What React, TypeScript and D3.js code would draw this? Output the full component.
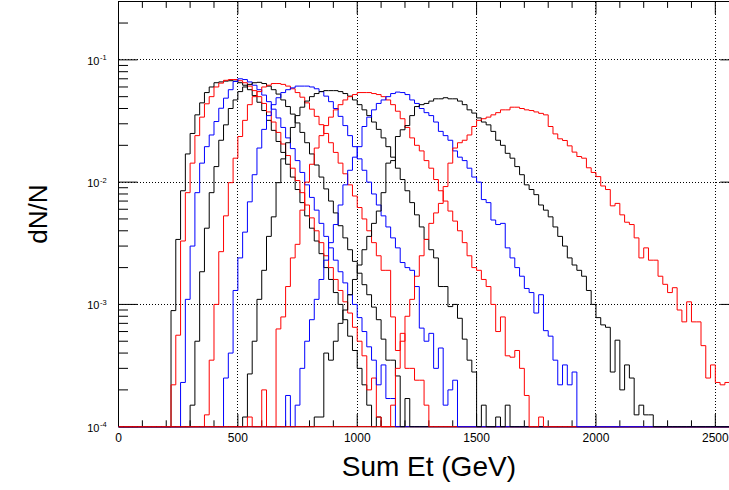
import React from 'react';
import * as d3 from 'd3';

// ---- data (dN/N per 20 GeV bin, values in units of 1e-3) ----
const BIN_WIDTH = 20;
const X_MAX = 2600;
const UNIT = 1e-3;

const h1Start = 220;
const h1 = [0.89, 3.4, 8.5, 17, 25, 35.5, 44.5, 54, 60, 65, 66, 67, 67.5, 67, 65, 62, 57, 51, 45, 38.5, 32, 26.5, 21.5, 17.5, 14, 11, 8.7, 6.8, 5.3, 4.2, 3.3, 2.6, 2.0, 1.6, 1.25, 1.0, 0.75, 0.55, 0.42, 0.3, 0.22, 0.15, 0, 0.12];
const h2Start = 220;
const h2 = [0.22, 0.56, 3.3, 8.2, 14.3, 24, 34, 43.7, 50, 60, 64.5, 68, 69, 69, 67.5, 65, 61, 56, 50, 44, 37.5, 31, 25.5, 20.5, 16.5, 13, 10.3, 8.2, 6.5, 5.1, 4.0, 3.2, 2.5, 2.0, 1.6, 1.3, 1.05, 0.85, 0.65, 0.5, 0.38, 0.2, 0.25, 0.12];
const h3Start = 260;
const h3 = [0.23, 1.1, 3.0, 8.2, 14.3, 19.5, 24.3, 31.3, 40.2, 48.6, 57, 66.5, 70, 69, 66, 62, 57, 51.5, 45.5, 39.5, 33.5, 28, 23, 18.8, 15, 12, 9.5, 7.5, 5.9, 4.6, 3.6, 2.9, 2.3, 1.85, 1.5, 1.2, 1.0, 0.78, 0.6, 0.45, 0.35, 0.22, 0.32, 0.17, 0.17];
const h4Start = 300;
const h4 = [0.15, 0.5, 1.85, 4.2, 8.2, 13.4, 22, 29.4, 40, 47, 55, 60, 63, 65, 65.5, 64, 61, 57, 52.5, 47, 41.5, 36, 30.5, 25.5, 21, 17, 13.8, 11, 8.8, 7, 5.6, 4.4, 3.5, 2.8, 2.25, 1.8, 1.45, 1.2, 0.95, 0.75, 0.52, 0.35, 0.35, 0.26, 0, 0.17];
const h5Start = 360;
const h5 = [0.125, 0.35, 1.0, 2.7, 5.3, 9.9, 15.7, 23.6, 32, 43, 50, 55, 60, 62, 64, 64, 63, 61, 58, 54, 49.5, 44.5, 39.5, 34.5, 29.5, 25, 21, 17.5, 14.3, 11.7, 9.5, 7.7, 6.2, 5.0, 4.0, 3.2, 2.5, 1.9, 1.9, 0.79, 0.42, 0.58, 0.3, 0.3, 0.24, 0.24, 0.15];
const h6Start = 440;
const h6 = [0.25, 0.4, 1.3, 2.4, 3.9, 6.9, 11.5, 19, 27, 35, 43, 49, 54, 57, 59, 61, 61, 61, 60, 58, 55, 50.5, 45.5, 40, 34.5, 29, 24, 19.5, 15.5, 12.5, 10, 8, 6.5, 5.3, 4.3, 3.5, 2.9, 2.2, 2.0, 1.9, 1.4, 0.64, 0.5, 0.58, 0.3, 0.44, 0.15, 0.2, 0.24];
const h7Start = 520;
const h7 = [0.12, 0.27, 0.5, 1.1, 1.9, 3.6, 5.2, 9.9, 15.5, 21, 28, 35, 41, 46, 50, 53, 55, 56, 56, 56, 55, 53, 50.5, 47, 43, 39, 35, 31, 27, 23, 19.5, 16, 13, 10.5, 8.5, 6.8, 5.4, 4.3, 3.4, 2.8, 2.4, 1.4, 1.4, 0.96, 1.0, 0.77, 0.52, 0.35, 0.28, 0, 0.15, 0, 0, 0.12, 0, 0.15];
const h8Start = 540;
const h8 = [0.12, 0, 0, 0.2, 0, 0, 0.63, 0.79, 1.4, 2.4, 3.1, 5.9, 10, 14, 19, 24, 29, 34, 39, 43, 47, 50, 52, 54, 54, 54, 53, 52, 50, 47, 43, 38, 33, 28, 23, 20, 18, 15, 13, 10.5, 8.5, 7, 5.8, 4.8, 4.0, 3.2, 2.5, 2.0, 1.9, 1.6, 1.4, 1.0, 0.6, 0.79, 0.38, 0.37, 0.42, 0.3, 0.18, 0, 0, 0.12];
const h9Start = 700;
const h9 = [0.18, 0, 0.15, 0.3, 0.5, 0.75, 1.1, 1.6, 2.3, 3.2, 4.5, 6.5, 9.5, 12.5, 16, 19.5, 28.5, 34, 39, 44, 47, 50, 53, 54.5, 54, 52, 47, 44, 40, 37, 35, 31, 26, 24, 22, 18, 16, 15, 13, 11, 10, 7.2, 6.8, 4.9, 4.5, 4.6, 2.9, 2.4, 2.0, 1.7, 1.35, 1.25, 0.85, 1.2, 0.61, 0.55, 0.35, 0.22, 0.32, 0.22, 0.28];
const h10Start = 820;
const h10 = [0.12, 0.12, 0.4, 0.35, 0.5, 0.7, 0.9, 1.2, 1.6, 2.1, 2.8, 3.6, 4.6, 5.8, 8.2, 14.3, 15, 23.6, 26.8, 29, 35, 41.5, 43, 44, 46, 48, 48, 49, 48, 48, 46, 43, 39, 36.7, 33.5, 31, 29.4, 26, 22, 20, 17.2, 15.7, 13.4, 11.5, 9.5, 8.7, 7.9, 6.5, 5.9, 5.2, 4.3, 3.6, 3.0, 2.4, 2.1, 1.9, 1.7, 1.3, 1.0, 0.78, 0.68, 0.65, 0.28, 0.51, 0.2, 0.32, 0.25, 0.125, 0.15, 0.125, 0.125];
const h11Start = 1140;
const h11 = [0.15, 0.3, 0.5, 0.8, 1.1, 1.7, 2.5, 3.4, 4.6, 5.6, 6.7, 9.2, 14.3, 19, 21, 22, 24.3, 28.5, 32, 33, 34, 35.5, 37, 39, 39, 41, 41, 40, 39, 38.5, 37.5, 36.5, 35.5, 28.5, 24.8, 22.6, 21.9, 19.8, 17.6, 16.2, 15.7, 13.1, 12, 11.1, 9.3, 8.7, 6.4, 6.7, 5.4, 4.7, 4.5, 3.5, 2.4, 2.9, 2.3, 2.3, 1.7, 1.46, 1.25, 1.37, 0.9, 0.72, 1.05, 0.72, 0.72, 0.46, 0.25, 0.32, 0.23, 0.22, 0.23, 0.12, 0.15];

const seriesStarts = [h1Start, h2Start, h3Start, h4Start, h5Start, h6Start, h7Start, h8Start, h9Start, h10Start, h11Start];
const seriesValues = [h1, h2, h3, h4, h5, h6, h7, h8, h9, h10, h11];
const palette = ['#000000', '#ff0000', '#0000ff'];

const xMajorTicks = [0, 500, 1000, 1500, 2000, 2500];
const yDecades = [1e-4, 1e-3, 1e-2, 1e-1];
const yExponents = ['-4', '-3', '-2', '-1'];

// ---- layout ----
const W = 729;
const H = 490;
const L = 118.5;
const R = 739.2;
const T = 1.5;
const B = 426.7;
const Y_MIN = 1e-4;
const Y_MAX = 0.3;

const FONT = "'Liberation Sans', Arial, Helvetica, sans-serif";

export default function App() {
  const x = d3.scaleLinear().domain([0, X_MAX]).range([L, R]);
  const y = d3.scaleLog().domain([Y_MIN, Y_MAX]).range([B, T]);
  const nBins = X_MAX / BIN_WIDTH;

  const yOf = (v: number) => (v > Y_MIN ? y(v) : B);

  const paths = seriesValues.map((vals, si) => {
    const start = seriesStarts[si];
    const pts: [number, number][] = [];
    for (let i = 0; i < nBins; i++) {
      const e = i * BIN_WIDTH;
      const k = (e - start) / BIN_WIDTH;
      const v = k >= 0 && k < vals.length ? vals[k] * UNIT : 0;
      pts.push([e, v]);
    }
    pts.push([X_MAX, pts[pts.length - 1][1]]);
    const line = d3
      .line<[number, number]>()
      .x((d) => x(d[0]))
      .y((d) => yOf(d[1]))
      .curve(d3.curveStepAfter);
    return { d: line(pts) || '', color: palette[si % 3] };
  });

  // ticks
  const xTicks: { v: number; major: boolean }[] = [];
  for (let t = 0; t <= X_MAX; t += 100) xTicks.push({ v: t, major: t % 500 === 0 });
  const yTicks: { v: number; major: boolean }[] = [];
  for (const d of yDecades) {
    for (let m = 1; m <= 9; m++) {
      const v = m * d;
      if (v <= Y_MAX * 1.0001) yTicks.push({ v, major: m === 1 });
    }
  }
  const XT_MAJ = 12.7;
  const XT_MIN = 6.4;
  const YT_MAJ = 19;
  const YT_MIN = 9.5;

  return (
    <svg
      width={W}
      height={H}
      style={{ position: 'absolute', left: 0, top: 0, background: '#fff' }}
      fontFamily={FONT}
    >
      <defs>
        <clipPath id="frame">
          <rect x={L} y={T - 1} width={R - L} height={B - T + 2} />
        </clipPath>
      </defs>
      <rect x={0} y={0} width={W} height={H} fill="#fff" />
      {/* grid */}
      <g stroke="#000" strokeWidth={1} strokeDasharray="1 2" shapeRendering="crispEdges">
        {xMajorTicks
          .filter((t) => t > 0)
          .map((t) => (
            <line key={'gx' + t} x1={x(t)} x2={x(t)} y1={T} y2={B} />
          ))}
        {yDecades
          .filter((d) => d > Y_MIN)
          .map((d) => (
            <line key={'gy' + d} x1={L} x2={R} y1={y(d)} y2={y(d)} />
          ))}
      </g>
      {/* frame and ticks */}
      <g stroke="#000" strokeWidth={1} fill="none">
        <rect x={L} y={T} width={R - L} height={B - T} />
        {xTicks.map((t) => (
          <g key={'xt' + t.v}>
            <line x1={x(t.v)} x2={x(t.v)} y1={B} y2={B - (t.major ? XT_MAJ : XT_MIN)} />
            <line x1={x(t.v)} x2={x(t.v)} y1={T} y2={T + (t.major ? XT_MAJ : XT_MIN)} />
          </g>
        ))}
        {yTicks.map((t) => (
          <g key={'yt' + t.v}>
            <line x1={L} x2={L + (t.major ? YT_MAJ : YT_MIN)} y1={y(t.v)} y2={y(t.v)} />
            <line x1={R} x2={R - (t.major ? YT_MAJ : YT_MIN)} y1={y(t.v)} y2={y(t.v)} />
          </g>
        ))}
      </g>
      {/* histograms */}
      <g clipPath="url(#frame)" fill="none" strokeWidth={1}>
        {paths.map((p, i) => (
          <path key={'h' + i} d={p.d} stroke={p.color} />
        ))}
      </g>
      {/* x tick labels */}
      <g fontSize={12} textAnchor="middle" fill="#000">
        {xMajorTicks.map((t) => (
          <text key={'xl' + t} x={x(t)} y={442}>
            {t}
          </text>
        ))}
      </g>
      {/* y tick labels */}
      <g fill="#000">
        {yDecades.map((d, i) => (
          <g key={'yl' + d}>
            <text x={99.5} y={y(d) + 5} fontSize={11} textAnchor="end">
              10
            </text>
            <text x={100} y={y(d) + 0.5} fontSize={7.5} textAnchor="start">
              {yExponents[i]}
            </text>
          </g>
        ))}
      </g>
      {/* titles */}
      <text x={(L + R) / 2} y={476} fontSize={28} textAnchor="middle" fill="#000">
        Sum Et (GeV)
      </text>
      <text
        transform={`translate(47, ${(T + B) / 2}) rotate(-90)`}
        fontSize={26}
        textAnchor="middle"
        fill="#000"
      >
        dN/N
      </text>
    </svg>
  );
}
